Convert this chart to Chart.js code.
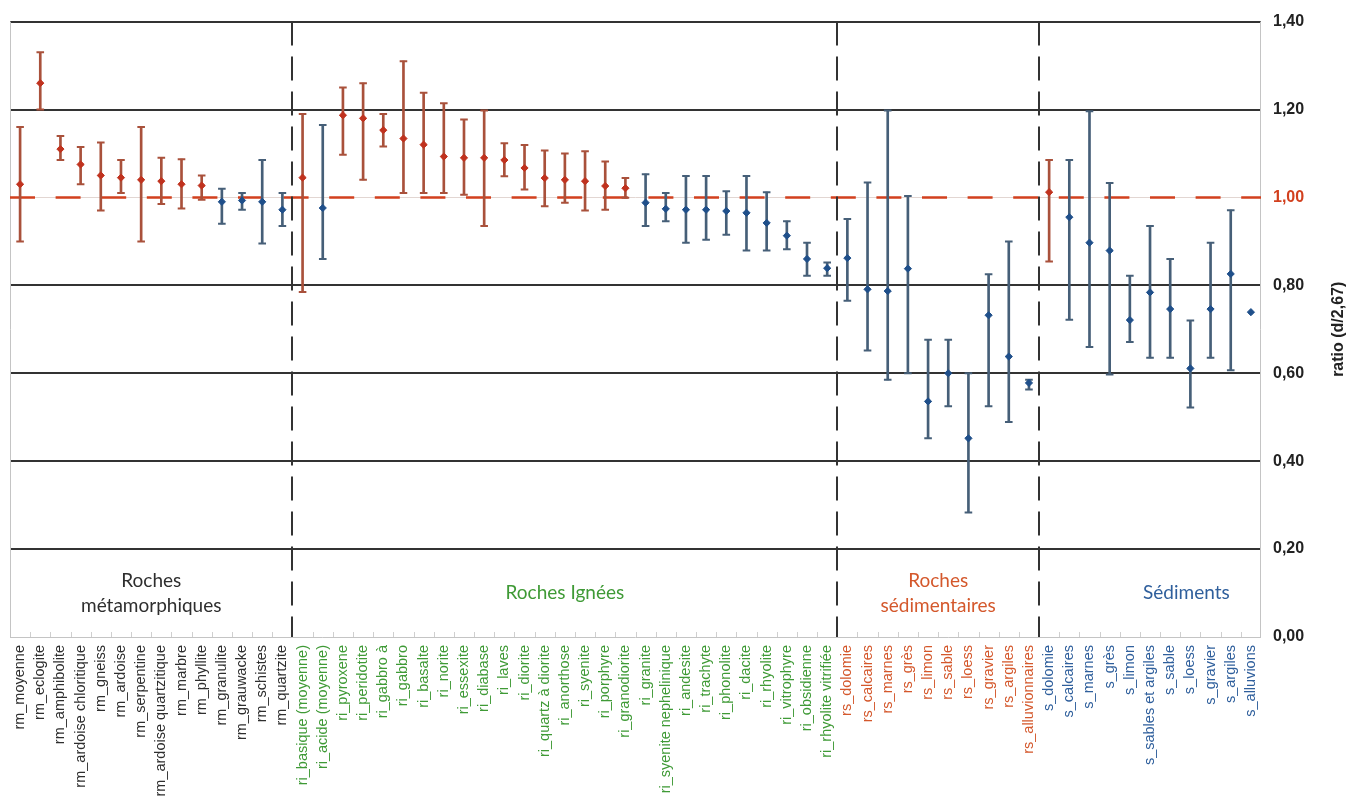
<!DOCTYPE html>
<html lang="fr">
<head>
<meta charset="utf-8">
<title>Ratio (d/2,67) par type de roche</title>
<script src="https://cdn.jsdelivr.net/npm/chart.js@4.4.1/dist/chart.umd.min.js"></script>
<style>
  html, body { margin: 0; padding: 0; background: #ffffff; }
  #conteneur { width: 1359px; height: 812px; }
</style>
</head>
<body>
<div id="conteneur"><canvas id="grafico-ratio"></canvas></div>
<script>
// Catégories de l'axe x, groupe par groupe
const categoriesMetamorphiques = ['rm_moyenne', 'rm_eclogite', 'rm_amphibolite', 'rm_ardoise chloritique', 'rm_gneiss',
    'rm_ardoise', 'rm_serpentine', 'rm_ardoise quartzitique', 'rm_marbre', 'rm_phyllite', 'rm_granulite',
    'rm_grauwacke', 'rm_schistes', 'rm_quartzite'];
const categoriesIgnees = ['ri_basique (moyenne)', 'ri_acide (moyenne)', 'ri_pyroxene', 'ri_peridotite', 'ri_gabbro à',
    'ri_gabbro', 'ri_basalte', 'ri_norite', 'ri_essexite', 'ri_diabase', 'ri_laves', 'ri_diorite', 'ri_quartz à diorite',
    'ri_anorthose', 'ri_syenite', 'ri_porphyre', 'ri_granodiorite', 'ri_granite', 'ri_syenite nephelinique',
    'ri_andesite', 'ri_trachyte', 'ri_phonolite', 'ri_dacite', 'ri_rhyolite', 'ri_vitrophyre', 'ri_obsidienne',
    'ri_rhyolite vitrifiée'];
const categoriesSedimentaires = ['rs_dolomie', 'rs_calcaires', 'rs_marnes', 'rs_grès', 'rs_limon', 'rs_sable',
    'rs_loess', 'rs_gravier', 'rs_argiles', 'rs_alluvionnaires'];
const categoriesSediments = ['s_dolomie', 's_calcaires', 's_marnes', 's_grès', 's_limon', 's_sables et argiles',
    's_sable', 's_loess', 's_gravier', 's_argiles', 's_alluvions'];

// Ratio moyen (d/2,67) et bornes basse / haute de l'intervalle
const moyennesMetamorphiques = [1.03, 1.26, 1.11, 1.075, 1.05, 1.045, 1.04, 1.037, 1.03, 1.027, 0.99, 0.993, 0.99, 0.972];
const bassesMetamorphiques = [0.90, 1.20, 1.085, 1.03, 0.97, 1.01, 0.90, 0.985, 0.975, 0.995, 0.94, 0.972, 0.895, 0.935];
const hautesMetamorphiques = [1.16, 1.33, 1.14, 1.115, 1.125, 1.085, 1.16, 1.09, 1.087, 1.05, 1.02, 1.01, 1.085, 1.01];

const moyennesIgnees = [1.045, 0.976, 1.187, 1.18, 1.153, 1.134, 1.12, 1.093, 1.09, 1.09, 1.085, 1.067, 1.044, 1.04,
    1.037, 1.026, 1.021, 0.988, 0.974, 0.972, 0.972, 0.969, 0.965, 0.942, 0.913, 0.86, 0.839];
const bassesIgnees = [0.785, 0.86, 1.097, 1.04, 1.116, 1.01, 1.01, 1.01, 1.006, 0.935, 1.048, 1.018, 0.98, 0.988,
    0.97, 0.972, 0.999, 0.935, 0.946, 0.897, 0.904, 0.915, 0.879, 0.879, 0.882, 0.822, 0.822];
const hautesIgnees = [1.19, 1.165, 1.25, 1.26, 1.19, 1.31, 1.238, 1.214, 1.177, 1.198, 1.123, 1.119, 1.107, 1.10,
    1.105, 1.082, 1.044, 1.053, 1.01, 1.049, 1.049, 1.014, 1.049, 1.012, 0.946, 0.897, 0.852];

const moyennesSedimentaires = [0.862, 0.791, 0.787, 0.838, 0.536, 0.60, 0.452, 0.732, 0.638, 0.578];
const bassesSedimentaires = [0.765, 0.652, 0.585, 0.60, 0.452, 0.525, 0.283, 0.525, 0.489, 0.563];
const hautesSedimentaires = [0.951, 1.034, 1.198, 1.003, 0.676, 0.676, 0.60, 0.825, 0.90, 0.585];

const moyennesSediments = [1.012, 0.955, 0.897, 0.879, 0.721, 0.784, 0.746, 0.611, 0.746, 0.826, 0.739];
const bassesSediments = [0.854, 0.722, 0.66, 0.597, 0.671, 0.635, 0.635, 0.522, 0.635, 0.607, null];
const hautesSediments = [1.085, 1.085, 1.196, 1.033, 0.822, 0.935, 0.86, 0.72, 0.897, 0.971, null];

// Graduations de l'axe y
const valeursY = [0, 0.2, 0.4, 0.6, 0.8, 1.0, 1.2, 1.4];

// Titres des groupes (une ligne par élément)
const titresGroupes = [['Roches', 'métamorphiques'], ['Roches Ignées'], ['Roches', 'sédimentaires'], ['Sédiments']];

// Couleurs
const couleursGroupes = ['#2e2e2e', '#3f9a36', '#d4582c', '#2f5f9c'];
const couleurRouge = '#c0321e';
const couleurBleu = '#1f4f8a';
const barreRouge = '#a9513b';
const barreBleu = '#465f78';

// Assemblage des séries complètes
const categories = [].concat(categoriesMetamorphiques, categoriesIgnees, categoriesSedimentaires, categoriesSediments);
const moyennes = [].concat(moyennesMetamorphiques, moyennesIgnees, moyennesSedimentaires, moyennesSediments);
const basses = [].concat(bassesMetamorphiques, bassesIgnees, bassesSedimentaires, bassesSediments);
const hautes = [].concat(hautesMetamorphiques, hautesIgnees, hautesSedimentaires, hautesSediments);

const groupeDeCategorie = [];
[categoriesMetamorphiques, categoriesIgnees, categoriesSedimentaires, categoriesSediments].forEach(function (liste, g) {
    liste.forEach(function () { groupeDeCategorie.push(g); });
});

// Intervalles pour les barres flottantes
const intervalles = basses.map(function (b, i) {
    return (b === null || hautes[i] === null) ? null : [b, hautes[i]];
});

// Position horizontale (en index de catégorie) du centre de chaque titre de groupe
const centresTitres = [6.5, 27, 45.5, 57.8];

function couleurPoint(c) {
    return moyennes[c.dataIndex] >= 1 ? couleurRouge : couleurBleu;
}

function couleurBarre(c) {
    return moyennes[c.dataIndex] >= 1 ? barreRouge : barreBleu;
}

function formatVirgule(v) {
    return Number(v).toFixed(2).replace('.', ',');
}

// Décor : cadre, ligne 1,00, séparations de groupes, titres
const pluginDecor = {
    id: 'decor',
    beforeDatasetsDraw(chart) {
        const { ctx, chartArea: zone, scales: { x, y } } = chart;
        const pas = x.getPixelForValue(1) - x.getPixelForValue(0);
        ctx.save();

        // bords gauche et droit gris clair
        ctx.strokeStyle = '#c4c4c4';
        ctx.lineWidth = 1;
        ctx.beginPath();
        ctx.moveTo(zone.left + 0.5, zone.top);
        ctx.lineTo(zone.left + 0.5, zone.bottom);
        ctx.moveTo(zone.right - 0.5, zone.top);
        ctx.lineTo(zone.right - 0.5, zone.bottom);
        ctx.stroke();

        // petites graduations entre les catégories
        ctx.strokeStyle = '#cfcfcf';
        ctx.beginPath();
        for (let i = 1; i < categories.length; i++) {
            const px = Math.round(x.getPixelForValue(i) - pas / 2) + 0.5;
            ctx.moveTo(px, zone.bottom);
            ctx.lineTo(px, zone.bottom - 5);
        }
        ctx.stroke();

        // ligne de référence à 1,00
        const y1 = y.getPixelForValue(1);
        ctx.strokeStyle = '#d2401e';
        ctx.lineWidth = 2.5;
        ctx.setLineDash([25, 20.6]);
        ctx.beginPath();
        ctx.moveTo(zone.left, y1);
        ctx.lineTo(zone.right, y1);
        ctx.stroke();

        // séparations verticales entre groupes
        ctx.strokeStyle = '#333333';
        ctx.lineWidth = 2;
        ctx.setLineDash([24, 11]);
        ctx.beginPath();
        for (let i = 1; i < groupeDeCategorie.length; i++) {
            if (groupeDeCategorie[i] !== groupeDeCategorie[i - 1]) {
                const px = Math.round(x.getPixelForValue(i) - pas / 2);
                ctx.moveTo(px, zone.top);
                ctx.lineTo(px, zone.bottom);
            }
        }
        ctx.stroke();
        ctx.restore();
    },
    afterDraw(chart) {
        const { ctx, chartArea: zone, scales: { x, y } } = chart;
        ctx.save();

        // titres des groupes dans le bas du graphique
        ctx.font = '19px Lato';
        ctx.textAlign = 'center';
        ctx.textBaseline = 'middle';
        const yMilieu = y.getPixelForValue(0.1);
        titresGroupes.forEach(function (lignes, g) {
            const px = x.getPixelForValue(centresTitres[g]);
            ctx.fillStyle = couleursGroupes[g];
            lignes.forEach(function (texte, k) {
                const decalage = (k - (lignes.length - 1) / 2) * 25;
                ctx.fillText(texte, px, yMilieu + decalage);
            });
        });

        // titre de l'axe y (lu de bas en haut)
        ctx.font = 'bold 16px "Liberation Sans"';
        ctx.fillStyle = '#222222';
        ctx.translate(1339, (zone.top + zone.bottom) / 2);
        ctx.rotate(-Math.PI / 2);
        ctx.fillText('ratio (d/2,67)', 0, 0);
        ctx.restore();
    }
};

window.onload = initGrafico;

function initGrafico() {
    const ctx = document.getElementById('grafico-ratio').getContext('2d');
    new Chart(ctx, {
        type: 'bar',
        data: {
            labels: categories,
            datasets: [
                {
                    label: 'moyenne',
                    type: 'line',
                    data: moyennes,
                    showLine: false,
                    pointStyle: 'rectRot',
                    pointRadius: 3.6,
                    pointBackgroundColor: couleurPoint,
                    pointBorderColor: couleurPoint,
                    pointBorderWidth: 1,
                    order: 0
                },
                {
                    label: 'borne haute',
                    type: 'line',
                    data: hautes,
                    showLine: false,
                    pointStyle: 'line',
                    pointRadius: 3.8,
                    pointBorderWidth: 2,
                    pointBorderColor: couleurBarre,
                    order: 1
                },
                {
                    label: 'borne basse',
                    type: 'line',
                    data: basses,
                    showLine: false,
                    pointStyle: 'line',
                    pointRadius: 3.8,
                    pointBorderWidth: 2,
                    pointBorderColor: couleurBarre,
                    order: 1
                },
                {
                    label: 'intervalle',
                    data: intervalles,
                    backgroundColor: couleurBarre,
                    borderWidth: 0,
                    barThickness: 2,
                    order: 2
                }
            ]
        },
        options: {
            responsive: true,
            maintainAspectRatio: false,
            animation: false,
            events: [],
            layout: { padding: { top: 18, left: 10, right: 0, bottom: 0 } },
            plugins: {
                legend: { display: false },
                tooltip: { enabled: false }
            },
            scales: {
                x: {
                    grid: { display: false, drawTicks: false },
                    border: { display: false },
                    ticks: {
                        autoSkip: false,
                        minRotation: 90,
                        maxRotation: 90,
                        padding: 8,
                        font: { family: 'Liberation Sans', size: 14.5 },
                        color: function (c) { return couleursGroupes[groupeDeCategorie[c.index]]; }
                    },
                    afterFit: function (scale) { scale.height = 175; }
                },
                y: {
                    position: 'right',
                    min: 0,
                    max: 1.4,
                    afterBuildTicks: function (scale) {
                        scale.ticks = valeursY.map(function (v) { return { value: v }; });
                    },
                    grid: {
                        drawTicks: false,
                        color: function (c) {
                            const v = c.tick.value;
                            if (v === 0) return '#c4c4c4';
                            if (Math.abs(v - 1) < 1e-6) return '#e2d6d2';
                            return '#333333';
                        },
                        lineWidth: function (c) {
                            const v = c.tick.value;
                            return (v === 0 || Math.abs(v - 1) < 1e-6) ? 1 : 2;
                        }
                    },
                    border: { display: false },
                    ticks: {
                        padding: 12,
                        font: { family: 'Liberation Sans', size: 16, weight: 'bold' },
                        color: function (c) { return Math.abs(c.tick.value - 1) < 1e-6 ? '#d2401e' : '#222222'; },
                        callback: function (v) { return formatVirgule(v); }
                    },
                    afterFit: function (scale) { scale.width = 98; }
                }
            }
        },
        plugins: [pluginDecor]
    });
}
</script>
</body>
</html>
